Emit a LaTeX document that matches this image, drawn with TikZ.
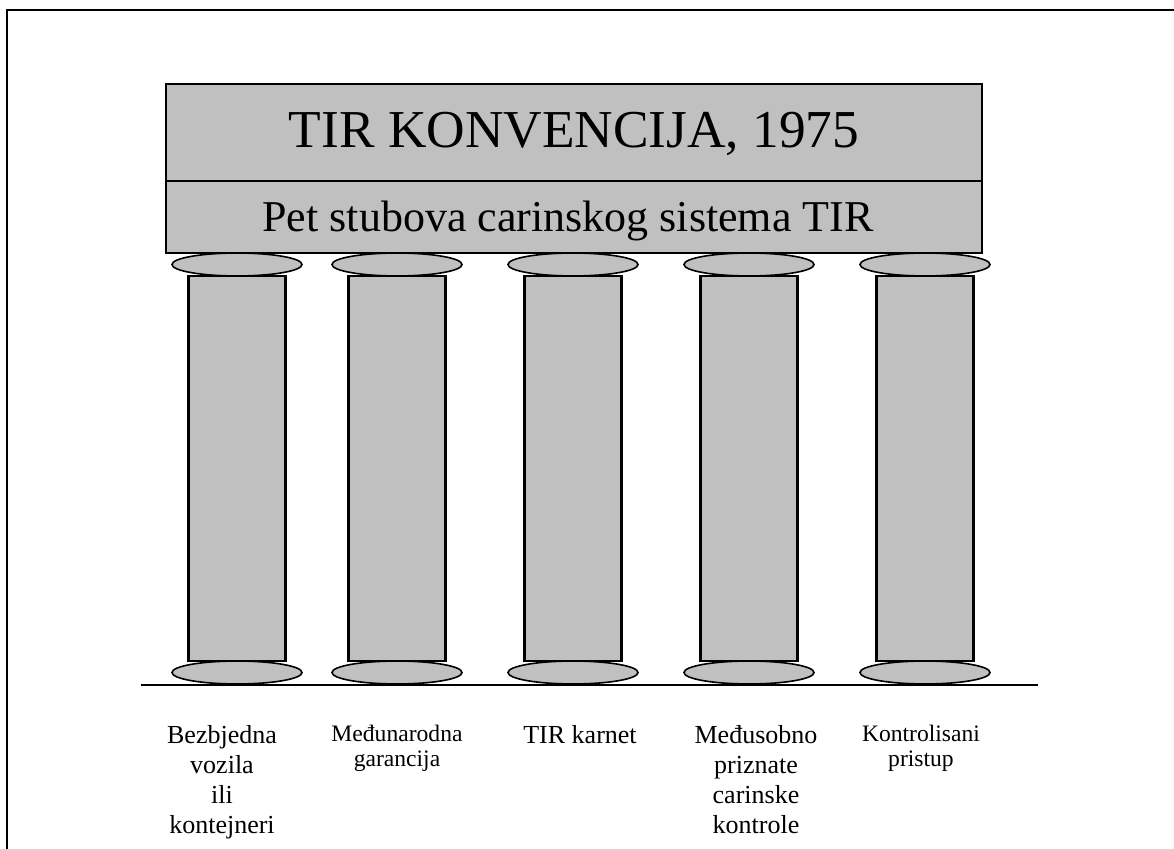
\documentclass[tikz,border=0pt]{standalone}
\usepackage{fontspec}
\setmainfont{Liberation Serif}
\definecolor{pillargray}{HTML}{C0C0C0}

\begin{document}
\begin{tikzpicture}[x=0.75pt,y=-0.75pt]

% drawing dimensions (in pixels of the page, y going down)
\newcommand{\pwidth}{97}
\newcommand{\ptop}{276}
\newcommand{\pbottom}{661}
\newcommand{\capy}{264.5}
\newcommand{\basey}{672.5}
\newcommand{\labely}{725}

% one pillar: shaft, capital and base
\newcommand{\pillar}[1]{
  \draw[line width=1.6pt, fill=pillargray] (#1 - 0.5 * \pwidth, \ptop) rectangle (#1 + 0.5 * \pwidth, \pbottom);
  \draw[line width=1.2pt, fill=pillargray] (#1, \capy) ellipse (48.75pt and 8.6pt);
  \draw[line width=1.2pt, fill=pillargray] (#1, \basey) ellipse (48.75pt and 8.6pt);
}

% ad hoc bounding box
\useasboundingbox (0, 0) rectangle (1174, 849);

% page frame
\draw[line width=1.8pt] (7, 852) -- (7, 10) -- (1177, 10);

% roof
\draw[line width=1.6pt, fill=pillargray] (166, 84) rectangle (982, 253);
\draw[line width=1.6pt] (166, 181) -- (982, 181);
\node[anchor=base, font=\fontsize{40}{48}\selectfont] (title) at (574, 147) {TIR KONVENCIJA, 1975};
\node[anchor=base, font=\fontsize{33}{39}\selectfont] (subtitle) at (568, 231) {Pet stubova carinskog sistema TIR};

% pillars
\pillar{237}
\pillar{397}
\pillar{573}
\pillar{749}
\pillar{925}

% ground
\draw[line width=1.6pt] (141, 685) -- (1038, 685);

% labels
\node[anchor=north, inner sep=0, align=center, font=\fontsize{19.5}{22.5}\selectfont] (vozila) at (222, \labely) {Bezbjedna\\vozila\\ili\\kontejneri};
\node[anchor=north, inner sep=0, align=center, font=\fontsize{17.7}{18.4}\selectfont] (garancija) at (397, \labely) {Međunarodna\\garancija};
\node[anchor=north, inner sep=0, align=center, font=\fontsize{19.5}{22.5}\selectfont] (karnet) at (580, \labely) {TIR karnet};
\node[anchor=north, inner sep=0, align=center, font=\fontsize{19.5}{22.5}\selectfont] (kontrole) at (756, \labely) {Međusobno\\priznate\\carinske\\kontrole};
\node[anchor=north, inner sep=0, align=center, font=\fontsize{17.7}{18.4}\selectfont] (pristup) at (921, \labely) {Kontrolisani\\pristup};

\end{tikzpicture}
\end{document}
